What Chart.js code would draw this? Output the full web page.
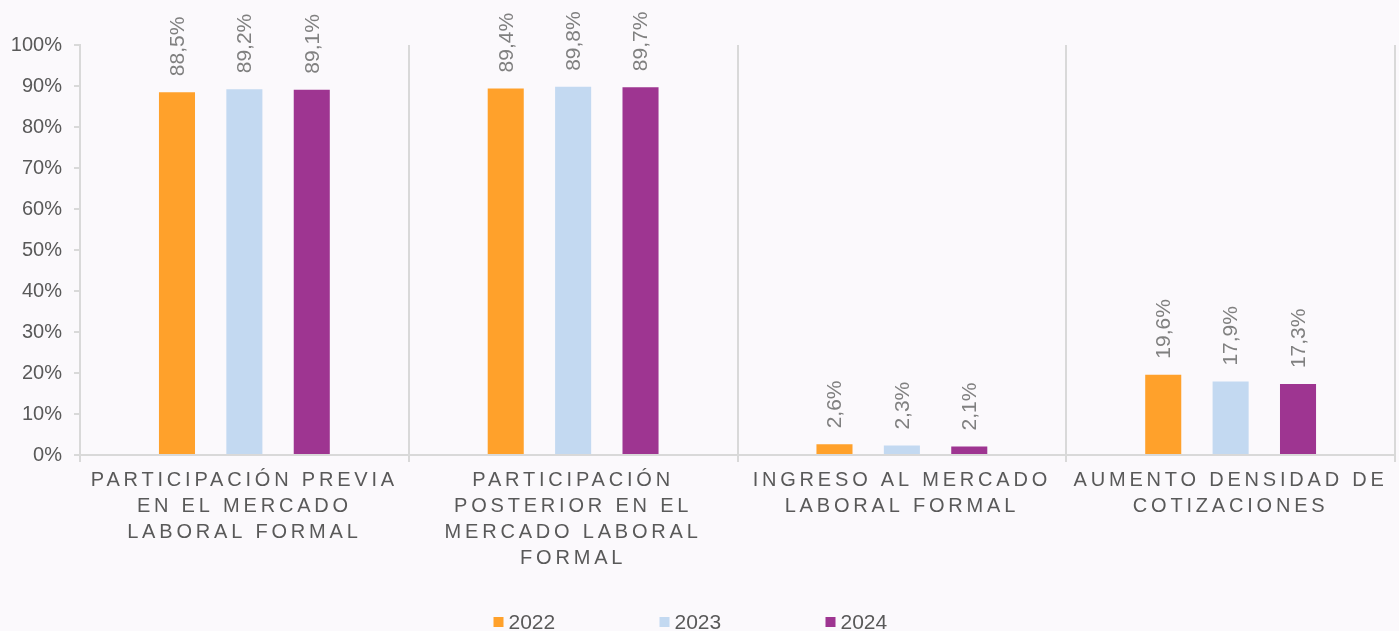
<!DOCTYPE html>
<html lang="es">
    <head>
        <meta charset="utf-8">
        <title>Participación mercado laboral formal</title>
        <script src="https://cdn.jsdelivr.net/npm/chart.js@4/dist/chart.umd.min.js"></script>
        <style>
        body {margin: 0; background: #fbf9fc;}
        .zona {position: relative; width: 1399px; height: 631px;}
        </style>
    </head>
    <body>
        <div class="zona"><canvas id="grafico"></canvas></div>

        <script>
        // categorias (una linea por elemento)
        var categorias = [
            ["PARTICIPACIÓN PREVIA", "EN EL MERCADO", "LABORAL FORMAL"],
            ["PARTICIPACIÓN", "POSTERIOR EN EL", "MERCADO LABORAL", "FORMAL"],
            ["INGRESO AL MERCADO", "LABORAL FORMAL"],
            ["AUMENTO DENSIDAD DE", "COTIZACIONES"]
        ];
        var anios = ["2022", "2023", "2024"];
        var valores2022 = [88.5, 89.4, 2.6, 19.6];
        var valores2023 = [89.2, 89.8, 2.3, 17.9];
        var valores2024 = [89.1, 89.7, 2.1, 17.3];
        var colores = ["#ffa12b", "#c3d9f1", "#9e3591"];

        var fuente = "'Liberation Sans', Arial, sans-serif";
        var gris = "#d9d9d9";

        // etiquetas verticales encima de cada barra
        const etiquetasBarras = {
            id: 'etiquetasBarras',
            afterDatasetsDraw(chart) {
                var ctx = chart.ctx;
                ctx.save();
                ctx.font = "21px " + fuente;
                ctx.fillStyle = "#808080";
                ctx.textAlign = "left";
                ctx.textBaseline = "middle";
                chart.data.datasets.forEach(function (ds, d) {
                    chart.getDatasetMeta(d).data.forEach(function (barra, i) {
                        var texto = ds.data[i].toFixed(1).replace('.', ',') + '%';
                        ctx.save();
                        ctx.translate(barra.x + 1, barra.y - 16);
                        ctx.rotate(-Math.PI / 2);
                        ctx.fillText(texto, 0, 0);
                        ctx.restore();
                    });
                });
                ctx.restore();
            }
        };

        // leyenda dibujada a mano en la parte baja
        const leyenda = {
            id: 'leyendaAbajo',
            afterDraw(chart) {
                var ctx = chart.ctx;
                ctx.save();
                ctx.font = "21px " + fuente;
                ctx.textBaseline = "middle";
                ctx.textAlign = "left";
                var x0 = chart.width / 2 - 206;
                var y = 622;
                chart.data.datasets.forEach(function (ds, d) {
                    var x = x0 + d * 166;
                    ctx.fillStyle = ds.backgroundColor;
                    ctx.fillRect(x, y - 5, 10, 10);
                    ctx.fillStyle = "#595959";
                    ctx.fillText(ds.label, x + 15, y + 1);
                });
                ctx.restore();
            }
        };

        // espaciado de letras solo para las etiquetas del eje x
        const espaciadoX = {
            id: 'espaciadoX',
            beforeDraw(chart) {
                var ejeX = chart.scales.x;
                if (ejeX._conEspaciado) return;
                var original = ejeX.drawLabels;
                ejeX.drawLabels = function (area) {
                    this.ctx.save();
                    this.ctx.letterSpacing = "3.8px";
                    original.call(this, area);
                    this.ctx.restore();
                };
                ejeX._conEspaciado = true;
            }
        };

        var ctx = document.getElementById('grafico').getContext('2d');
        var grafico = new Chart(ctx, {
            type: 'bar',
            data: {
                labels: categorias,
                datasets: [
                    {label: anios[0], data: valores2022, backgroundColor: colores[0]},
                    {label: anios[1], data: valores2023, backgroundColor: colores[1]},
                    {label: anios[2], data: valores2024, backgroundColor: colores[2]}
                ]
            },
            options: {
                responsive: true,
                maintainAspectRatio: false,
                animation: false,
                categoryPercentage: 0.615,
                barPercentage: 0.535,
                layout: {padding: {left: 0, right: 4, top: 45, bottom: 66}},
                plugins: {
                    legend: {display: false},
                    tooltip: {enabled: false}
                },
                scales: {
                    x: {
                        grid: {offset: true, color: gris, lineWidth: 2, tickLength: 7},
                        border: {color: gris, width: 2},
                        ticks: {
                            color: "#595959",
                            font: {family: fuente, size: 20, lineHeight: 1.3},
                            maxRotation: 0,
                            autoSkip: false,
                            padding: 5
                        },
                        afterFit: function (eje) { eje.height = 110; }
                    },
                    y: {
                        min: 0,
                        max: 100,
                        grid: {drawOnChartArea: false, color: gris, lineWidth: 2, tickLength: 6},
                        border: {color: gris, width: 2},
                        ticks: {
                            stepSize: 10,
                            color: "#595959",
                            font: {family: fuente, size: 20},
                            padding: 12,
                            callback: function (v) { return v + '%'; }
                        },
                        afterFit: function (eje) { eje.width = 80; }
                    }
                }
            },
            plugins: [etiquetasBarras, leyenda, espaciadoX]
        });
        </script>
    </body>
</html>
